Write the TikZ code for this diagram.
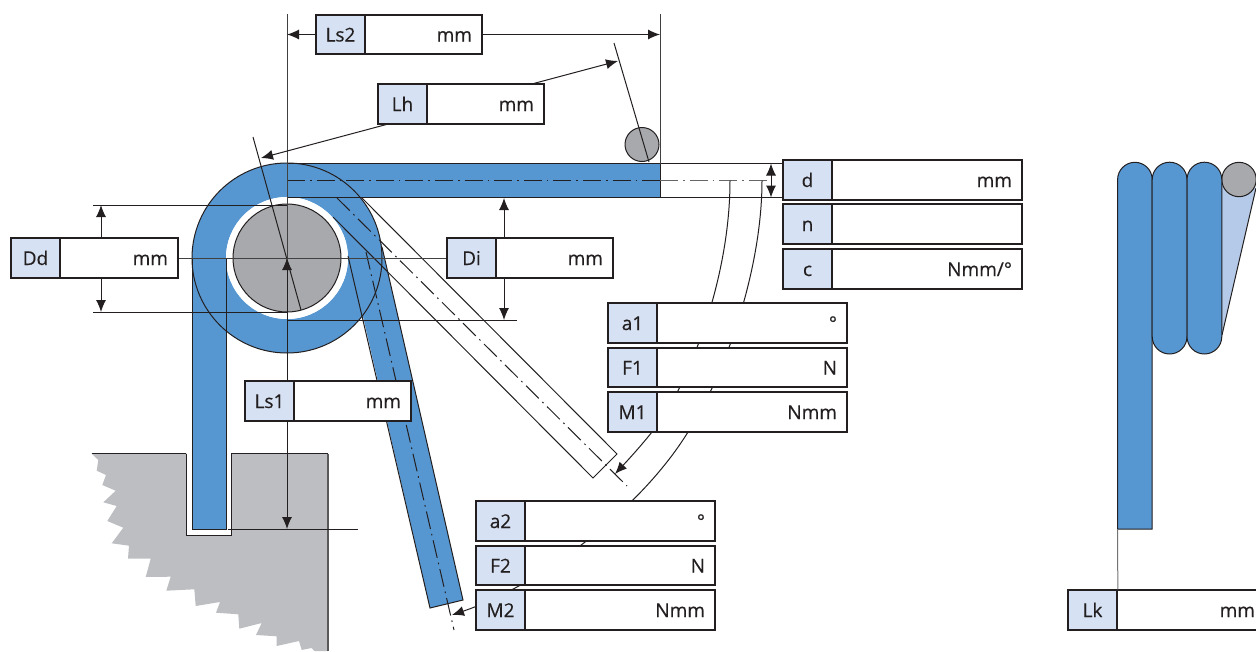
\documentclass[tikz,border=0pt]{standalone}
\usepackage{fontspec}
\setmainfont{Open Sans}[FakeBold=0.35]
\usetikzlibrary{arrows.meta,calc}
\definecolor{springblue}{HTML}{5797D1}
\definecolor{paleblue}{HTML}{B4CAE8}
\definecolor{fieldblue}{HTML}{D6E2F3}
\definecolor{pingrey}{HTML}{A7A9AC}
\definecolor{blockgrey}{HTML}{BCBEC1}
\definecolor{inkdark}{HTML}{231F20}
\tikzset{
  labfield/.style={draw=inkdark,fill=fieldblue,line width=1.6pt,minimum width=49pt,minimum height=39.5pt,inner sep=0pt,
    text height=14pt,text depth=0pt,font=\fontsize{19}{22}\selectfont,text=inkdark},
  valfield/.style={draw=inkdark,fill=white,line width=1.6pt,minimum height=39.5pt,inner ysep=0pt,inner xsep=10pt,
    text width=#1,align=right,text height=14pt,text depth=0pt,font=\fontsize{19}{22}\selectfont,text=inkdark},
  thinline/.style={draw=inkdark,line width=1pt},
  dimarrow/.style={thinline,-{Latex[length=12pt,width=10pt]}},
  dimboth/.style={thinline,{Latex[length=12pt,width=10pt]}-{Latex[length=12pt,width=10pt]}},
  centreline/.style={draw=inkdark,line width=1pt,dash pattern=on 18pt off 5pt on 1.6pt off 5pt}
}
\begin{document}
\begin{tikzpicture}[x=1pt,y=-1pt]
\useasboundingbox (0,0) rectangle (1256,651);
\clip (0,0) rectangle (1256,651);
\coordinate (cen) at (287,258);
\coordinate (edgeR) at (660,163.5);
\coordinate (edgeB) at (660,197.5);
\coordinate (radTop) at (253,137);
\coordinate (radEnd) at (301,310);
\coordinate (radTip) at (261,158);
\coordinate (wireTop) at (614,43);
\coordinate (wireEnd) at (649,162);
\coordinate (wireTip) at (618,61);
\coordinate (ddTop) at (101,205);
\coordinate (ddBot) at (101,312);
\coordinate (diTop) at (504,198);
\coordinate (diBot) at (504,320);
\coordinate (dTop) at (771,163.5);
\coordinate (dBot) at (771,197.5);
\coordinate (armBase) at (287,529);
\coordinate (leadA) at (730,180.5);
\coordinate (leadB) at (762,180.5);
\coordinate (leadC) at (688,432);
\coordinate (tipOne) at (615,474);
\coordinate (tipTwo) at (452,615);
\fill[blockgrey] (91.7,453.7)--(98.3,460)--(96.7,470.7)--(106,475)--(102.3,485)--(115.7,490.7)--(103.3,502.3)--(116.7,506)--(107.3,521)--(123.3,527.7)--(111.7,543.3)--(129,545.7)--(128,558.7)--(150.7,558.7)--(145.7,577)--(170.7,576.7)--(166.3,590.7)--(194.3,589.3)--(195.7,606)--(220,602)--(216,612.7)--(238.3,614.3)--(239.3,628.7)--(261.7,623)--(256,635)--(276.7,636.3)--(276.7,646)--(299,641)--(301.7,650)--(311.7,648)--(314.3,651)--(328,651)--(328,453.7)--cycle;
\draw[inkdark,line width=1pt] (91.7,453.7)--(186,453.7);
\draw[inkdark,line width=1pt] (231,453.7)--(328,453.7);
\draw[black!65,line width=1.2pt] (328,453.7)--(328,651);
\draw[inkdark,fill=white,line width=1pt] (186,453.7)--(186,535)--(231,535)--(231,453.7);
\fill[white] (186.5,440) rectangle (230.5,453.7);
\fill[springblue,even odd rule] (cen) circle[radius=95] (cen) circle[radius=61];
\fill[springblue] (287,163.5) rectangle (660,197.5);
\fill[springblue] (192,258) rectangle (226,529);
\fill[springblue] (346.4,244.3)--(379.5,236.6)--(463,600)--(430,608)--cycle;
\fill[white] (cen) circle[radius=61];
\draw[fill=pingrey,thinline] (cen) circle[radius=54];
\draw[thinline] (cen) circle[radius=95];
\draw[thinline] (287,163.5)--(edgeR)--(edgeB)--(287,197.5);
\draw[thinline] (226,258)--(226,529)--(192,529)--(192,258);
\draw[thinline] (348,256)--(430,608)--(463,600)--(382,247);
\draw[thinline] (362,198)--(617,454)--(593,478)--(333,217);
\draw[centreline] (287,180.5)--(660,180.5);
\draw[centreline,draw=black!60] (660,180.5)--(767,180.5);
\draw[centreline] (337,198)--(627,486);
\draw[centreline] (366,252)--(454,630);
\draw[thinline] (edgeR)--(dTop-|783,0);
\draw[thinline] (edgeB)--(dBot-|783,0);
\draw[dimboth] (dTop)--(dBot);
\draw[thinline,draw=black!75] (287,14)--(cen);
\draw[thinline,draw=black!75] (660,14)--(edgeR);
\draw[thinline] (radTop)--(radEnd);
\draw[fill=pingrey,thinline] (642,144.5) circle[radius=17];
\draw[thinline] (wireTop)--(wireEnd);
\draw[thinline] (93,205)--(287,205);
\draw[thinline] (93,312.5)--(287,312.5);
\draw[thinline] (287,320)--(517,320);
\draw[thinline] (228,529)--(358,529);
\draw[thinline] (leadA) .. controls (730,290) and (680,400) .. (652,432);
\draw[dimarrow] (652,432) .. controls (640,447) and (628,460) .. (tipOne);
\draw[thinline] (leadB) .. controls (762,270) and (725,375) .. (leadC);
\draw[dimarrow] (leadC) .. controls (640,510) and (540,585) .. (tipTwo);
\node (ls2lab) at (340.5,34.5) [labfield] {Ls2};
\node (ls2val) at (423.5,34.5) [valfield=97pt] {mm};
\node (lhlab) at (402.5,104) [labfield] {Lh};
\node (lhval) at (485.5,104) [valfield=97pt] {mm};
\node (ddlab) at (35.5,258) [labfield] {Dd};
\node (ddval) at (119,258) [valfield=98pt] {mm};
\node (dilab) at (471.5,258) [labfield] {Di};
\node (dival) at (554.5,258) [valfield=97pt] {mm};
\node (ls1lab) at (269.5,401) [labfield] {Ls1};
\node (ls1val) at (352.5,401) [valfield=97pt] {mm};
\node (dlab) at (807.5,180) [labfield] {d};
\node (dval) at (927,180) [valfield=170pt] {mm};
\node (nlab) at (807.5,224) [labfield] {n};
\node (nval) at (927,224) [valfield=170pt] {};
\node (clab) at (807.5,269) [labfield] {c};
\node (cval) at (927,269) [valfield=170pt] {Nmm/°};
\node (aonelab) at (632.5,323) [labfield] {a1};
\node (aoneval) at (752,323) [valfield=170pt] {°};
\node (fonelab) at (632.5,367.5) [labfield] {F1};
\node (foneval) at (752,367.5) [valfield=170pt] {N};
\node (monelab) at (632.5,412) [labfield] {M1};
\node (moneval) at (752,412) [valfield=170pt] {Nmm};
\node (atwolab) at (500.5,521) [labfield] {a2};
\node (atwoval) at (620,521) [valfield=170pt] {°};
\node (ftwolab) at (500.5,565.5) [labfield] {F2};
\node (ftwoval) at (620,565.5) [valfield=170pt] {N};
\node (mtwolab) at (500.5,610) [labfield] {M2};
\node (mtwoval) at (620,610) [valfield=170pt] {Nmm};
\node (lklab) at (1092.5,610) [labfield] {Lk};
\node (lkval) at (1191,610) [valfield=128pt] {mm};
\draw[dimarrow] (ls2lab.west)--(ls2lab.west-|cen);
\draw[dimarrow] (ls2val.east)--(ls2val.east-|edgeR);
\draw[dimarrow] ([xshift=9pt]lhlab.south west)--(radTip);
\draw[dimarrow] ([xshift=-11pt]lhval.north east)--(wireTip);
\draw[thinline,draw=black!75] (ddval.east)--(dilab.west);
\draw[dimarrow] (ddval.north-|ddTop)--(ddTop);
\draw[dimarrow] (ddval.south-|ddBot)--(ddBot);
\draw[dimarrow] (dival.north-|diTop)--(diTop);
\draw[dimarrow] (dival.south-|diBot)--(diBot);
\draw[dimarrow] (ls1lab.north-|cen)--(cen);
\draw[dimarrow] (ls1lab.south-|cen)--(armBase);
\fill[paleblue] (1222,175) -- (1256,188) -- (1222,335) -- cycle;
\draw[thinline] (1256,188)--(1222,335);
\draw[fill=pingrey,thinline] (1239,179.5) circle[radius=17.2];
\draw[fill=springblue,thinline] (1117.6,529)--(1117.6,179.6) arc[start angle=180,end angle=360,radius=17.3]--(1152.2,529)--cycle;
\draw[fill=springblue,thinline] (1152.2,179.6) arc[start angle=180,end angle=360,radius=17.4]--(1187,336.6) arc[start angle=0,end angle=180,radius=17.4]--cycle;
\draw[fill=springblue,thinline] (1187,179.6) arc[start angle=180,end angle=360,radius=17.4]--(1221.8,336.6) arc[start angle=0,end angle=180,radius=17.4]--cycle;
\draw[thinline,draw=black!55] (1117.6,529)--(lklab.north east);
\end{tikzpicture}
\end{document}
